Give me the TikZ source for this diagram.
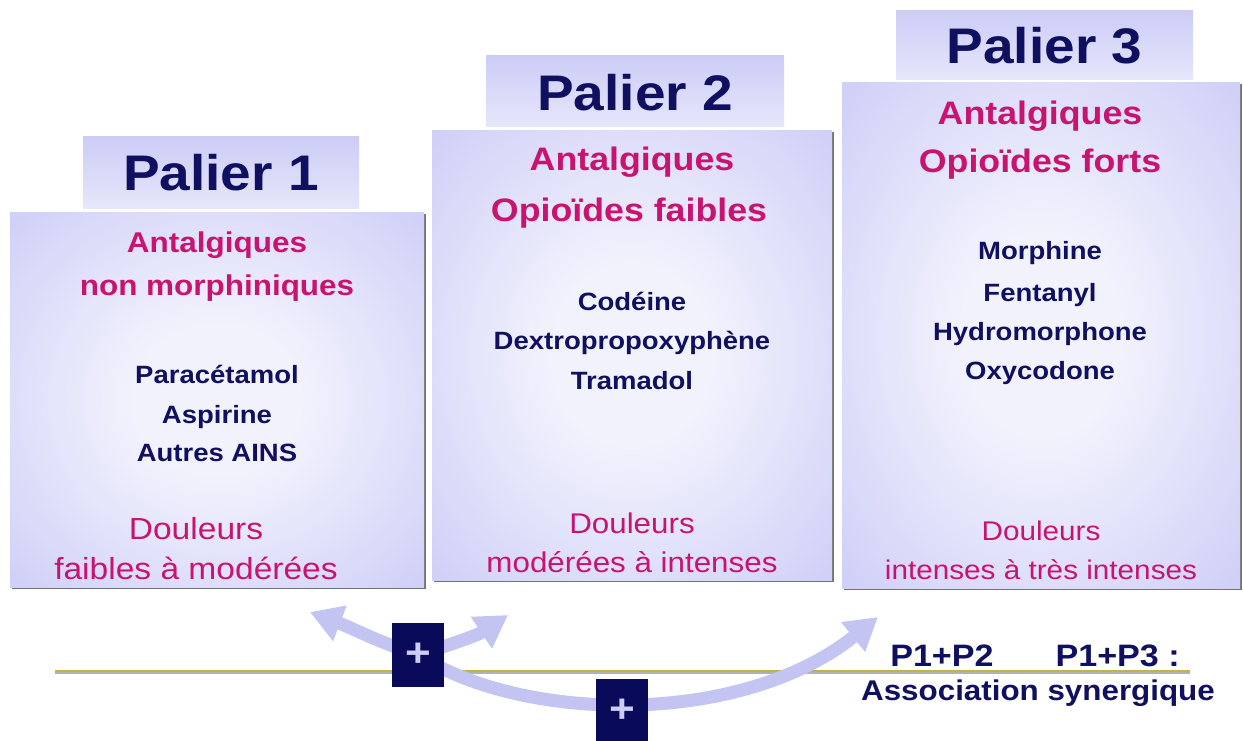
\documentclass[tikz,border=0pt]{standalone}
\usepackage{fontspec}
\setmainfont[FakeStretch=1.1]{Liberation Sans}
\usetikzlibrary{arrows.meta,shadows}
\definecolor{navy}{RGB}{16,16,96}
\definecolor{mag}{RGB}{200,20,112}
\definecolor{lavA}{RGB}{198,198,246}
\definecolor{lavB}{RGB}{242,242,253}
\definecolor{hdrTop}{RGB}{204,204,247}
\definecolor{hdrBot}{RGB}{230,230,251}
\definecolor{arrc}{RGB}{196,196,242}
\definecolor{plusc}{RGB}{10,10,90}
\definecolor{plust}{RGB}{205,205,245}
\definecolor{goldline}{RGB}{196,178,70}
\pgfdeclareradialshading{boxshade}{\pgfpoint{0bp}{0bp}}{color(0bp)=(lavB); color(10bp)=(lavB); color(42bp)=(lavA); color(50bp)=(lavA)}
\begin{document}
\begin{tikzpicture}[x=1pt,y=-1pt,
  box/.style={shading=boxshade, draw=none, inner sep=0pt,
    general shadow={fill=black!55, shadow xshift=2pt, shadow yshift=-2pt}},
  hdr/.style={top color=hdrTop, bottom color=hdrBot, draw=none, inner sep=0pt},
  pal/.style={font=\bfseries\fontsize{50}{60}\selectfont, text=navy, anchor=base, inner sep=0pt},
  magA/.style={font=\bfseries\fontsize{32.5}{39}\selectfont, text=mag, anchor=base, inner sep=0pt},
  magB/.style={font=\bfseries\fontsize{28.6}{34}\selectfont, text=mag, anchor=base, inner sep=0pt},
  drug/.style={font=\bfseries\fontsize{25}{30}\selectfont, text=navy, anchor=base, inner sep=0pt},
  dol/.style={font=\fontsize{28.5}{34}\selectfont, text=mag, anchor=base, inner sep=0pt},
  bot/.style={font=\bfseries\fontsize{28.5}{34}\selectfont, text=navy, anchor=base, inner sep=0pt},
  plusbox/.style={fill=plusc, minimum width=52pt, minimum height=64pt, inner sep=0pt,
    text=plust, font=\bfseries\fontsize{40}{44}\selectfont},
  arr/.style={draw=arrc, line width=13pt, -{Triangle[width=36pt,length=32pt]}}
]
\useasboundingbox (0,0) rectangle (1243,740);
\fill[white] (0,0) rectangle (1243,740);

% main boxes
\node[box, minimum width=414pt, minimum height=375pt] (b1) at (217,399.5) {};
\node[box, minimum width=400pt, minimum height=450pt] (b2) at (632,355) {};
\node[box, minimum width=398pt, minimum height=506pt] (b3) at (1041,335) {};

% headers
\node[hdr, minimum width=276pt, minimum height=72pt] (h1) at (221,172) {};
\node[hdr, minimum width=298pt, minimum height=71pt] (h2) at (635,90.5) {};
\node[hdr, minimum width=297pt, minimum height=69pt] (h3) at (1044.5,44.5) {};

\node[pal] (t1) at (h1 |- 0,190) {Palier 1};
\node[pal] (t2) at (h2 |- 0,110) {Palier 2};
\node[pal] (t3) at (h3 |- 0,63) {Palier 3};

% box 1 text
\node[magB] (a1) at (217,252) {Antalgiques};
\node[magB] (a1b) at (217,295) {non morphiniques};
\node[drug] (d11) at (217,383) {Paracétamol};
\node[drug] (d12) at (217,423) {Aspirine};
\node[drug] (d13) at (217,461) {Autres AINS};
\node[dol, font=\fontsize{30.5}{36}\selectfont] (o1) at (196,539) {Douleurs};
\node[dol, font=\fontsize{30.5}{36}\selectfont] (o1b) at (196,579) {faibles à modérées};

% box 2 text
\node[magA] (a2) at (632,170) {Antalgiques};
\node[magA] (a2b) at (629,221) {Opioïdes faibles};
\node[drug] (d21) at (632,310) {Codéine};
\node[drug] (d22) at (632,349) {Dextropropoxyphène};
\node[drug] (d23) at (632,389) {Tramadol};
\node[dol] (o2) at (632,533) {Douleurs};
\node[dol] (o2b) at (632,572) {modérées à intenses};

% box 3 text
\node[magA] (a3) at (1040,124) {Antalgiques};
\node[magA] (a3b) at (1040,172) {Opioïdes forts};
\node[drug] (d31) at (1040,259) {Morphine};
\node[drug] (d32) at (1040,301) {Fentanyl};
\node[drug] (d33) at (1040,340) {Hydromorphone};
\node[drug] (d34) at (1040,379) {Oxycodone};
\node[dol, font=\fontsize{27}{33}\selectfont] (o3) at (1041,540) {Douleurs};
\node[dol, font=\fontsize{27}{33}\selectfont] (o3b) at (1041,579) {intenses à très intenses};

% base line
\coordinate (la) at (55,671);
\coordinate (lb) at (1190,671);
\draw[black!30, line width=1.5pt] ([yshift=-2pt]la) -- ([yshift=-2pt]lb);
\draw[goldline, line width=2.5pt] (la) -- (lb);

% plus boxes and arrows
\coordinate (tipL) at (310,612);
\coordinate (tipR) at (508,615);
\coordinate (tip3) at (878,617);
\node[plusbox, draw=none, fill=none] (paa) at (418,654.5) {};
\node[plusbox, draw=none, fill=none] (pbb) at (622,711) {};
\draw[arr] (paa.center) .. controls (385,645) and (352,628) .. (tipL);
\draw[arr] (paa.center) .. controls (450,645) and (478,635) .. (tipR);
\draw[arr] (paa.center) .. controls (520,722) and (740,728) .. (tip3);
\node[plusbox] (pa) at (paa) {+};
\node[plusbox] (pb) at (pbb) {+};

% bottom text
\node[bot, font=\bfseries\fontsize{31}{36}\selectfont] (p12) at (1035,666) {P1+P2\hspace{62pt}P1+P3 :};
\node[bot] (as) at (1038,700) {Association synergique};
\end{tikzpicture}
\end{document}
